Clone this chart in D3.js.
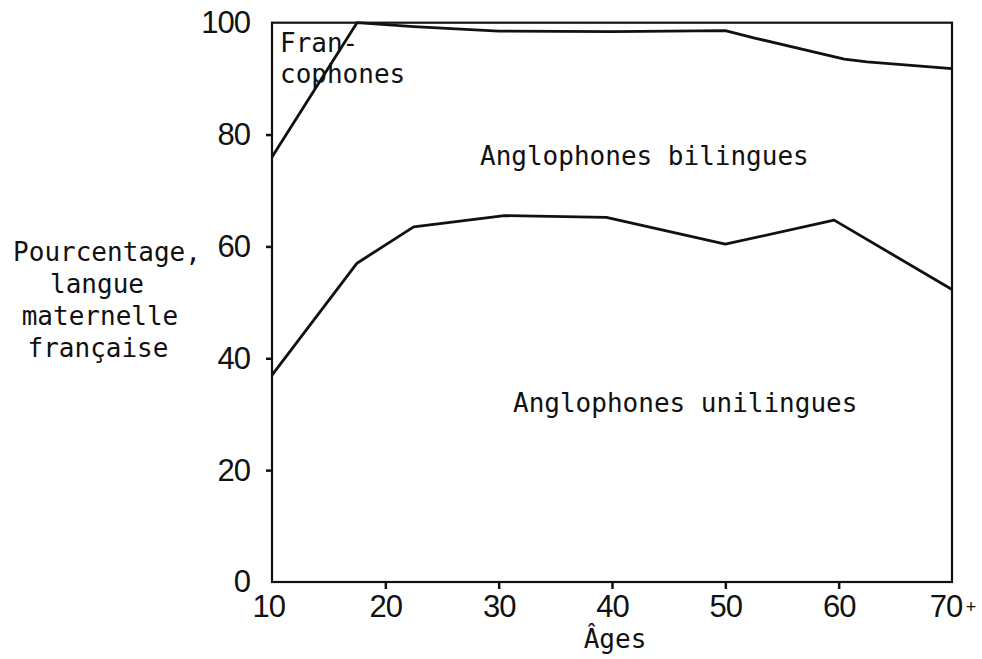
<!DOCTYPE html>
<html>
	<head>
		<meta charset="utf-8">
		<title>Pourcentage, langue maternelle française</title>
		<script src="https://d3js.org/d3.v7.min.js" charset="utf-8"></script>
		<style>
			body { margin: 0; background: #fff; }
			.frame { fill: none; stroke: #111; stroke-width: 2.2px; }
			.line { fill: none; stroke: #111; stroke-width: 2.8px; stroke-linejoin: round; }
			.tick-num { font-family: "Liberation Sans", Arial, sans-serif; font-size: 31px; letter-spacing: -1px; fill: #111; }
			.lbl { font-family: "DejaVu Sans Mono", monospace; font-size: 26px; fill: #111; }
		</style>
	</head>
	<body>
		<div id="box"></div>
		<script>
			// ages (x) and values (%)
			var xTicks = [10, 20, 30, 40, 50, 60, 70];
			var yTicks = [0, 20, 40, 60, 80, 100];

			// boundary francophones / anglophones bilingues
			var upperAges = [10, 17.5, 22.5, 30, 40, 50, 52.5, 60.5, 62.5, 70];
			var upperVals = [76, 100, 99.3, 98.5, 98.4, 98.6, 97.3, 93.5, 93.0, 91.8];

			// boundary anglophones bilingues / unilingues
			var lowerAges = [10, 17.5, 22.5, 30.5, 39.5, 50, 59.6, 70];
			var lowerVals = [37, 57, 63.5, 65.5, 65.2, 60.4, 64.7, 52.3];

			var W = 982, H = 659;
			var svg = d3.select('#box').append('svg').attr('width', W).attr('height', H).style('display', 'block');

			var x = d3.scaleLinear().domain([10, 70]).range([272, 952]);
			var y = d3.scaleLinear().domain([0, 100]).range([582, 22.7]);

			// cadre
			svg.append('rect').attr('class', 'frame')
				.attr('x', x(10)).attr('y', y(100))
				.attr('width', x(70) - x(10)).attr('height', y(0) - y(100));

			// axe y
			var yAxis = svg.append('g').attr('transform', `translate(${x(10)},0)`)
				.call(d3.axisLeft(y).tickValues(yTicks).tickSize(6).tickPadding(16));
			yAxis.select('.domain').remove();
			yAxis.selectAll('.tick line').attr('stroke', '#111').attr('stroke-width', 2.5)
				.style('display', d => (d === 0 || d === 100) ? 'none' : null);
			yAxis.selectAll('.tick text').attr('class', 'tick-num').attr('font-size', null).attr('font-family', null);

			// axe x
			var xAxis = svg.append('g').attr('transform', `translate(0,${y(0)})`)
				.call(d3.axisBottom(x).tickValues(xTicks).tickSize(7).tickPadding(3)
					.tickFormat(d => d));
			xAxis.select('.domain').remove();
			xAxis.selectAll('.tick line').attr('stroke', '#111').attr('stroke-width', 2.5)
				.style('display', d => (d === 10 || d === 70) ? 'none' : null);
			xAxis.selectAll('.tick text').attr('class', 'tick-num').attr('font-size', null).attr('font-family', null)
				.attr('dy', '0.8em');
			xAxis.selectAll('.tick').filter(d => d === 10).select('text').attr('dx', '-0.12em');
			xAxis.selectAll('.tick').filter(d => d === 70).select('text')
				.append('tspan').attr('font-size', 18).attr('dx', '0.2em').attr('dy', '-0.2em').text('+');

			// courbes
			var line = d3.line().x(d => x(d[0])).y(d => y(d[1]));
			svg.append('path').attr('class', 'line')
				.attr('d', line(d3.zip(upperAges, upperVals)));
			svg.append('path').attr('class', 'line')
				.attr('d', line(d3.zip(lowerAges, lowerVals)));

			// étiquettes des zones
			svg.append('text').attr('class', 'lbl').attr('x', 280).attr('y', 52).text('Fran-');
			svg.append('text').attr('class', 'lbl').attr('x', 280).attr('y', 83).text('cophones');
			svg.append('text').attr('class', 'lbl').attr('x', 480).attr('y', 165).text('Anglophones bilingues');
			svg.append('text').attr('class', 'lbl').attr('x', 513).attr('y', 412).text('Anglophones unilingues');

			// titre axe y
			var yTitle = ['Pourcentage,', 'langue', 'maternelle', 'française'];
			var yTitleX = [107, 97, 100, 98];
			svg.append('g').selectAll('text').data(yTitle).enter().append('text')
				.attr('class', 'lbl').attr('text-anchor', 'middle')
				.attr('x', (d, i) => yTitleX[i]).attr('y', (d, i) => 261 + i * 32)
				.text(d => d);

			// titre axe x
			svg.append('text').attr('class', 'lbl').attr('text-anchor', 'middle')
				.attr('x', 615).attr('y', 648).text('Âges');
		</script>
	</body>
</html>
